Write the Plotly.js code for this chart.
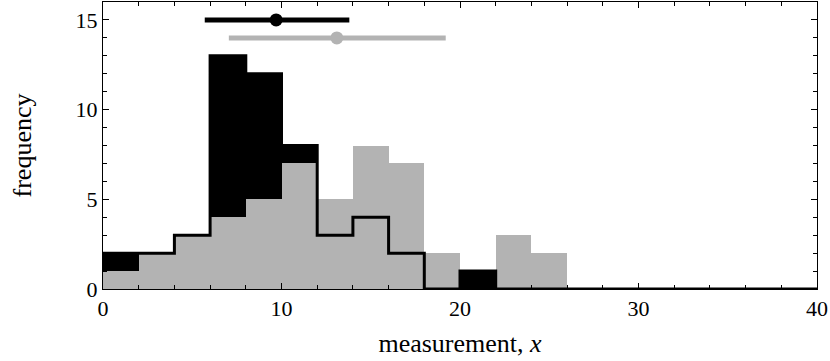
<!DOCTYPE html>
<html>
<head>
<meta charset="utf-8">
<script src="https://cdn.plot.ly/plotly-3.0.1.min.js"></script>
<style>html,body{margin:0;padding:0;background:#fff;}#chart{width:830px;height:361px;}</style>
</head>
<body>
<div id="chart"></div>
<script>
// Bin edges (width 2) from 0 to 40
const binEdges = [0,2,4,6,8,10,12,14,16,18,20,22,24,26,28,30,32,34,36,38,40];
// Black histogram counts (per bin)
const countsBlack = [2,2,3,13,12,8,3,4,2,0,1,0,0,0,0,0,0,0,0,0];
// Gray histogram counts (per bin)
const countsGray  = [1,2,3,4,5,7,5,8,7,2,0,3,2,0,0,0,0,0,0,0];
// Summary markers (mean with spread)
const summaryBlack = {mean: 9.7, low: 5.7, high: 13.8, level: 15};
const summaryGray  = {mean: 13.1, low: 7.05, high: 19.2, level: 14};

const centers = binEdges.slice(0, -1).map((e, i) => (e + binEdges[i + 1]) / 2);
const widths = binEdges.slice(0, -1).map((e, i) => binEdges[i + 1] - e);

const stepX = binEdges.slice();
const stepY = countsBlack.concat([countsBlack[countsBlack.length - 1]]);

const data = [
  {type: 'bar', x: centers, y: countsBlack, width: widths,
   marker: {color: '#000000', line: {width: 0}}, hoverinfo: 'skip'},
  {type: 'bar', x: centers, y: countsGray, width: widths,
   marker: {color: '#b3b3b3', line: {width: 0}}, hoverinfo: 'skip'},
  {type: 'scatter', mode: 'lines', x: stepX, y: stepY,
   line: {shape: 'hv', color: '#000000', width: 3}},
  {type: 'scatter', mode: 'markers', x: [summaryGray.mean], y: [summaryGray.level],
   marker: {color: '#b3b3b3', size: 13},
   error_x: {type: 'data', symmetric: false,
     array: [summaryGray.high - summaryGray.mean],
     arrayminus: [summaryGray.mean - summaryGray.low],
     color: '#b3b3b3', thickness: 5, width: 0}},
  {type: 'scatter', mode: 'markers', x: [summaryBlack.mean], y: [summaryBlack.level],
   marker: {color: '#000000', size: 13},
   error_x: {type: 'data', symmetric: false,
     array: [summaryBlack.high - summaryBlack.mean],
     arrayminus: [summaryBlack.mean - summaryBlack.low],
     color: '#000000', thickness: 5, width: 0}}
];

const fontFam = 'Liberation Serif, DejaVu Serif, serif';
const layout = {
  width: 830, height: 361,
  margin: {l: 103, r: 13, t: 2, b: 72},
  showlegend: false,
  barmode: 'overlay',
  bargap: 0,
  paper_bgcolor: '#ffffff',
  plot_bgcolor: '#ffffff',
  font: {family: fontFam, size: 22, color: '#000000'},
  xaxis: {
    range: [0, 40], tickvals: [0, 10, 20, 30, 40],
    ticks: 'inside', ticklen: 6, tickcolor: '#000', tickwidth: 1,
    minor: {ticks: 'inside', tickvals: [2,4,6,8,12,14,16,18,22,24,26,28,32,34,36,38], ticklen: 4, tickcolor: '#000'},
    showline: true, linecolor: '#000', linewidth: 1, mirror: 'allticks',
    showgrid: false, zeroline: false,
    tickfont: {family: fontFam, size: 22},
    title: {text: 'measurement, <i>x</i>', font: {family: fontFam, size: 26}, standoff: 13}
  },
  yaxis: {
    range: [0, 16], tickvals: [0, 5, 10, 15],
    ticks: 'inside', ticklen: 6, tickcolor: '#000', tickwidth: 1,
    minor: {ticks: 'inside', tickvals: [1,2,3,4,6,7,8,9,11,12,13,14,16], ticklen: 4, tickcolor: '#000'},
    showline: true, linecolor: '#000', linewidth: 1, mirror: 'allticks',
    showgrid: false, zeroline: false,
    tickfont: {family: fontFam, size: 22},
    title: {text: 'frequency', font: {family: fontFam, size: 26}, standoff: 36}
  }
};

Plotly.newPlot('chart', data, layout, {displayModeBar: false, staticPlot: true});
</script>
</body>
</html>
